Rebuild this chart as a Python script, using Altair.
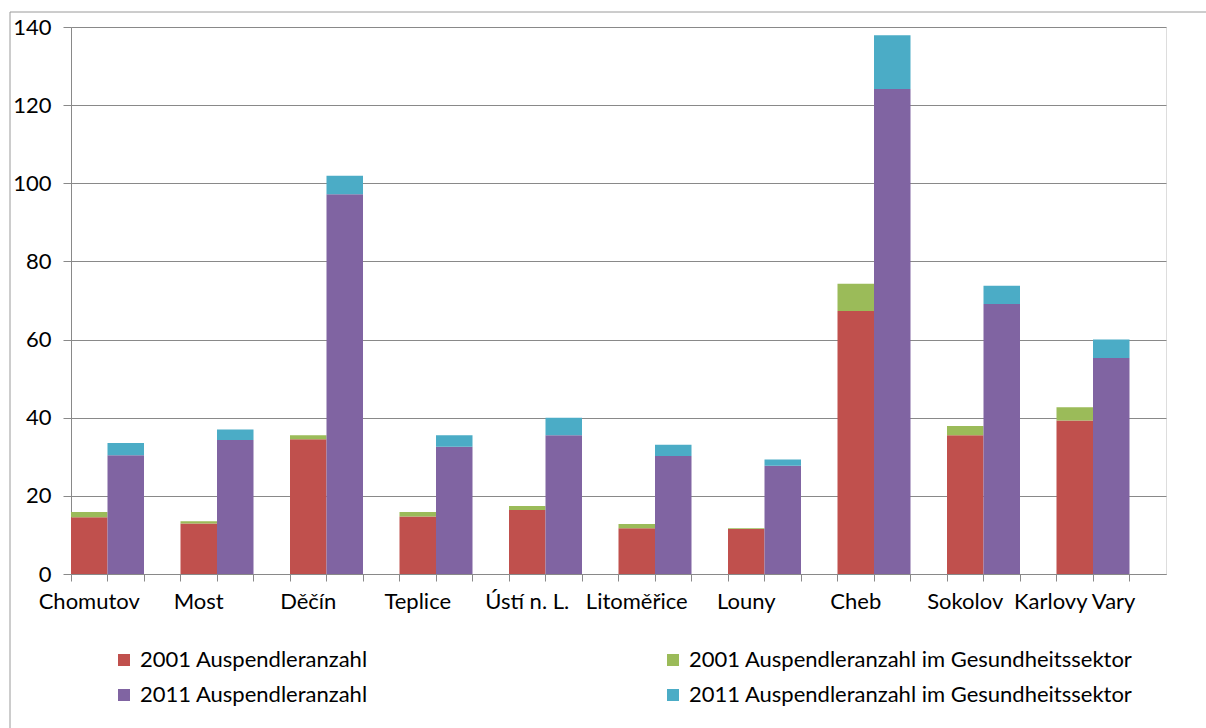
import altair as alt
import pandas as pd

districts = ["Chomutov", "Most", "Děčín", "Teplice", "Ústí n. L.", "Litoměřice",
             "Louny", "Cheb", "Sokolov", "Karlovy Vary"]
pend_2001 = [14.5, 12.9, 34.5, 14.7, 16.4, 11.7, 11.5, 67.3, 35.5, 39.3]
health_2001 = [1.4, 0.6, 1.0, 1.2, 1.0, 1.1, 0.2, 7.0, 2.4, 3.4]
pend_2011 = [30.4, 34.3, 97.2, 32.6, 35.5, 30.2, 27.7, 124.1, 69.1, 55.3]
health_2011 = [3.1, 2.7, 4.7, 2.9, 4.5, 2.9, 1.6, 13.8, 4.7, 4.7]

s_p01 = "2001 Auspendleranzahl"
s_h01 = "2001 Auspendleranzahl im Gesundheitssektor"
s_p11 = "2011 Auspendleranzahl"
s_h11 = "2011 Auspendleranzahl im Gesundheitssektor"
# legend order (column-major: left column, then right column)
series = [s_p01, s_p11, s_h01, s_h11]
colors = ["#C0504D", "#8064A2", "#9BBB59", "#4BACC6"]
y_ticks = [0, 20, 40, 60, 80, 100, 120, 140]

slots = []
rows = []
label_rows = []
for i, d in enumerate(districts):
    s1, s2, s3 = f"{d}|1", f"{d}|2", f"{d}|3"
    slots += [s1, s2, s3]
    rows.append({"slot": s1, "series": s_p01, "value": pend_2001[i], "ord": 0})
    rows.append({"slot": s1, "series": s_h01, "value": health_2001[i], "ord": 1})
    rows.append({"slot": s2, "series": s_p11, "value": pend_2011[i], "ord": 0})
    rows.append({"slot": s2, "series": s_h11, "value": health_2011[i], "ord": 1})
    label_rows.append({"slot": s1, "name": d})
df = pd.DataFrame(rows)
labels_df = pd.DataFrame(label_rows)

FONT = "Lato"
FS = 22
GRAY = "#898989"

x_enc = alt.X("slot:N", sort=slots,
              scale=alt.Scale(domain=slots, paddingInner=0, paddingOuter=0),
              axis=alt.Axis(title=None, bandPosition=0, labels=False, tickSize=7,
                            domainColor=GRAY, tickColor=GRAY, grid=False))

bars = alt.Chart(df).mark_bar().encode(
    x=x_enc,
    y=alt.Y("value:Q", stack="zero",
            scale=alt.Scale(domain=[0, 140], nice=False),
            axis=alt.Axis(title=None, values=y_ticks, tickSize=8, labelPadding=12,
                          domainColor=GRAY, tickColor=GRAY, gridColor=GRAY,
                          labelFont=FONT, labelFontSize=FS, labelColor="#000000")),
    color=alt.Color("series:N", scale=alt.Scale(domain=series, range=colors),
                    legend=alt.Legend(orient="none", legendX=42, legendY=622, columns=2,
                                      title=None, symbolType="square", symbolSize=144,
                                      symbolStrokeWidth=0, labelFont=FONT, labelFontSize=FS,
                                      labelColor="#000000", labelLimit=700,
                                      columnPadding=294, rowPadding=13, labelOffset=5)),
    order=alt.Order("ord:Q"),
)

x_labels = alt.Chart(labels_df).mark_text(
    font=FONT, fontSize=FS, color="#000000", baseline="top", align="center"
).encode(
    x=alt.X("slot:N", sort=slots),
    y=alt.value(565),
    text="name:N",
)

frame_df = pd.DataFrame({"k": [0]})
top_line = alt.Chart(frame_df).mark_rule(color="#9a9a9a", strokeWidth=1).encode(
    x=alt.value(-61), x2=alt.value(1140), y=alt.value(-15))
left_line = alt.Chart(frame_df).mark_rule(color="#9a9a9a", strokeWidth=1).encode(
    x=alt.value(-61), y=alt.value(-15), y2=alt.value(710))

chart = alt.layer(bars, x_labels, top_line, left_line).properties(
    width=1095, height=547,
    autosize=alt.AutoSizeParams(type="none"),
    padding={"left": 71, "top": 27, "right": 40, "bottom": 154},
).configure_view(stroke=None).configure(background="#ffffff")

chart.save("out.html", embed_options={"renderer": "svg", "actions": False})
